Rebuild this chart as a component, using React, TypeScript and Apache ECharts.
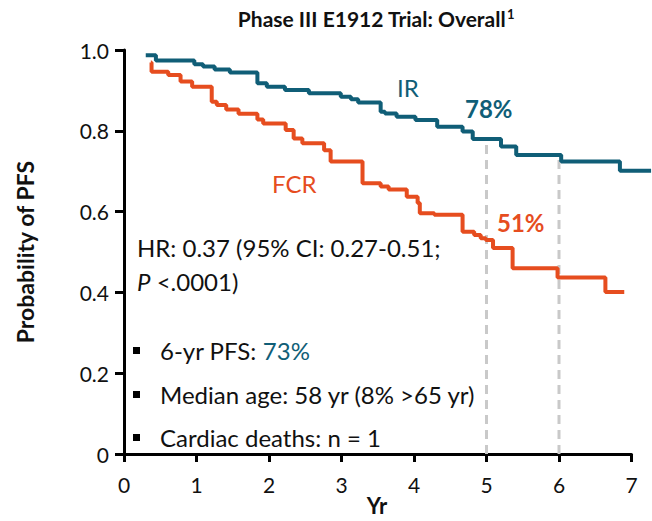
import React, { useEffect, useRef } from "react";
import * as echarts from "echarts";

// Kaplan-Meier steps: [year, probability of PFS]
const irSteps: [number, number][] = [
  [0.30, 0.987], [0.44, 0.974], [0.97, 0.965], [1.09, 0.959], [1.25, 0.952],
  [1.46, 0.944], [1.84, 0.918], [1.97, 0.909], [2.22, 0.901], [2.55, 0.893],
  [2.99, 0.884], [3.13, 0.878], [3.23, 0.870], [3.54, 0.847], [3.60, 0.843],
  [3.76, 0.835], [4.02, 0.827], [4.32, 0.810], [4.67, 0.798], [4.81, 0.78],
  [5.20, 0.761], [5.41, 0.74], [6.03, 0.724], [6.84, 0.701], [7.27, 0.701],
];
const fcrSteps: [number, number][] = [
  [0.37, 0.969], [0.38, 0.946], [0.61, 0.938], [0.78, 0.922], [0.94, 0.909],
  [1.21, 0.872], [1.28, 0.864], [1.41, 0.853], [1.58, 0.842], [1.84, 0.828],
  [1.92, 0.818], [2.23, 0.802], [2.34, 0.781], [2.46, 0.769], [2.76, 0.752],
  [2.85, 0.724], [3.29, 0.670], [3.54, 0.662], [3.65, 0.655], [3.90, 0.637],
  [4.05, 0.621], [4.08, 0.596], [4.28, 0.592], [4.67, 0.550], [4.83, 0.542],
  [4.92, 0.534], [4.99, 0.530], [5.09, 0.51], [5.36, 0.460], [5.98, 0.437],
  [6.64, 0.401], [6.90, 0.401],
];
// Landmark years marked with dashed guides, up to the IR curve
const landmarkYears = [5, 6];
const xTicks = [0, 1, 2, 3, 4, 5, 6, 7];
const yTicks = [0, 0.2, 0.4, 0.6, 0.8, 1.0];

// Axes are drawn to 7 yr; follow-up runs a little past that
const AXIS_MAX = 7;
const PLOT_MAX = 7.3;
const PX_PER_YR = 72.5;
const LEFT = 124;

const IR_COLOR = "#105e77";
const FCR_COLOR = "#e64d1f";
const FONT = "Lato";
const BODY = 24;

function valueAt(steps: [number, number][], t: number): number {
  let v = steps[0][1];
  for (const [x, y] of steps) {
    if (x <= t) v = y;
  }
  return v;
}

export default function App() {
  const ref = useRef<HTMLDivElement>(null);

  useEffect(() => {
    if (!ref.current) return;
    const chart = echarts.init(ref.current, undefined, { renderer: "svg" });

    const guideSeries = landmarkYears.map((yr) => ({
      type: "line" as const,
      xAxisIndex: 1,
      yAxisIndex: 1,
      data: [
        [yr, 0],
        [yr, valueAt(irSteps, yr)],
      ],
      symbol: "none",
      silent: true,
      z: 1,
      lineStyle: { color: "#c9c9c9", width: 3, type: [9, 6] as any },
    }));

    const textStyle = { fontFamily: FONT, fontSize: BODY, fill: "#111" };
    const axisFont = { fontFamily: FONT, fontSize: 21, color: "#111" };
    const nameFont = { fontFamily: FONT, fontSize: 23, fontWeight: "bold" as const, color: "#111" };
    const gridBase = { left: LEFT, top: 50, bottom: 67, containLabel: false, outerBoundsMode: "none" };

    chart.setOption({
      animation: false,
      grid: [
        { ...gridBase, width: AXIS_MAX * PX_PER_YR },
        { ...gridBase, width: PLOT_MAX * PX_PER_YR },
      ],
      xAxis: [
        {
          type: "value",
          gridIndex: 0,
          min: 0,
          max: AXIS_MAX,
          interval: 1,
          axisLine: { show: true, onZero: false, lineStyle: { color: "#000", width: 3 } },
          axisTick: { show: true, length: 8, lineStyle: { color: "#000", width: 3 } },
          axisLabel: {
            ...axisFont,
            margin: 20,
            formatter: (v: number) => (xTicks.includes(v) ? String(v) : ""),
          },
          splitLine: { show: false },
        },
        {
          type: "value",
          gridIndex: 1,
          min: 0,
          max: PLOT_MAX,
          show: false,
          splitLine: { show: false },
        },
      ],
      yAxis: [
        {
          type: "value",
          gridIndex: 0,
          min: 0,
          max: 1,
          interval: 0.2,
          name: "Probability of PFS",
          nameLocation: "middle",
          nameRotate: 90,
          nameGap: 88,
          nameTextStyle: nameFont,
          axisLine: { show: true, lineStyle: { color: "#000", width: 3 } },
          axisTick: { show: true, length: 9, lineStyle: { color: "#000", width: 3 } },
          axisLabel: {
            ...axisFont,
            margin: 15,
            formatter: (v: number) => {
              const t = yTicks.find((y) => Math.abs(y - v) < 1e-6);
              if (t === undefined) return "";
              return t === 0 ? "0" : t.toFixed(1);
            },
          },
          splitLine: { show: false },
        },
        {
          type: "value",
          gridIndex: 1,
          min: 0,
          max: 1,
          show: false,
          splitLine: { show: false },
        },
      ],
      series: [
        ...guideSeries,
        {
          name: "IR",
          type: "line",
          xAxisIndex: 1,
          yAxisIndex: 1,
          step: "end",
          data: irSteps,
          symbol: "none",
          z: 3,
          lineStyle: { color: IR_COLOR, width: 4 },
        },
        {
          name: "FCR",
          type: "line",
          xAxisIndex: 1,
          yAxisIndex: 1,
          step: "end",
          data: fcrSteps,
          symbol: "none",
          z: 3,
          lineStyle: { color: FCR_COLOR, width: 4 },
        },
      ],
      graphic: [
        {
          type: "text",
          x: 376,
          y: 18,
          style: {
            text: "Phase III E1912 Trial: Overall{s|1}",
            fontFamily: FONT,
            fontSize: 21,
            fontWeight: "bold",
            fill: "#111",
            align: "center",
            verticalAlign: "middle",
            rich: { s: { fontFamily: FONT, fontSize: 13, fontWeight: "bold", verticalAlign: "top", padding: [0, 0, 9, 1] } } as any,
          },
        },
        {
          type: "text",
          x: 377,
          y: 505,
          style: { text: "Yr", fontFamily: FONT, fontSize: 22, fontWeight: "bold", fill: "#111", align: "center", verticalAlign: "middle" },
        },
        { type: "text", x: 397, y: 87, style: { text: "IR", fontFamily: FONT, fontSize: BODY, fill: IR_COLOR, verticalAlign: "middle" } },
        { type: "text", x: 465, y: 108, style: { text: "78%", fontFamily: FONT, fontSize: BODY, fontWeight: "bold", fill: IR_COLOR, verticalAlign: "middle" } },
        { type: "text", x: 272, y: 183, style: { text: "FCR", fontFamily: FONT, fontSize: BODY, fill: FCR_COLOR, verticalAlign: "middle" } },
        { type: "text", x: 497, y: 222, style: { text: "51%", fontFamily: FONT, fontSize: BODY, fontWeight: "bold", fill: FCR_COLOR, verticalAlign: "middle" } },
        { type: "text", x: 137, y: 247, style: { ...textStyle, text: "HR: 0.37 (95% CI: 0.27-0.51;", verticalAlign: "middle" } },
        {
          type: "text",
          x: 137,
          y: 281,
          style: {
            ...textStyle,
            text: "{i|P} <.0001)",
            verticalAlign: "middle",
            rich: { i: { fontFamily: FONT, fontSize: BODY, fontStyle: "italic", fill: "#111" } } as any,
          },
        },
        { type: "rect", shape: { x: 133, y: 347, width: 7, height: 7 }, style: { fill: "#000" } },
        { type: "rect", shape: { x: 133, y: 391, width: 7, height: 7 }, style: { fill: "#000" } },
        { type: "rect", shape: { x: 133, y: 434, width: 7, height: 7 }, style: { fill: "#000" } },
        {
          type: "text",
          x: 160,
          y: 350,
          style: {
            ...textStyle,
            text: "6-yr PFS: {t|73%}",
            verticalAlign: "middle",
            rich: { t: { fontFamily: FONT, fontSize: BODY, fill: IR_COLOR } } as any,
          },
        },
        { type: "text", x: 160, y: 394, style: { ...textStyle, text: "Median age: 58 yr (8% >65 yr)", verticalAlign: "middle" } },
        { type: "text", x: 160, y: 437, style: { ...textStyle, text: "Cardiac deaths: n = 1", verticalAlign: "middle" } },
      ],
    });

    return () => chart.dispose();
  }, []);

  return (
    <div
      ref={ref}
      style={{ position: "fixed", left: 0, top: 0, width: 652, height: 521, background: "#fff" }}
    />
  );
}
